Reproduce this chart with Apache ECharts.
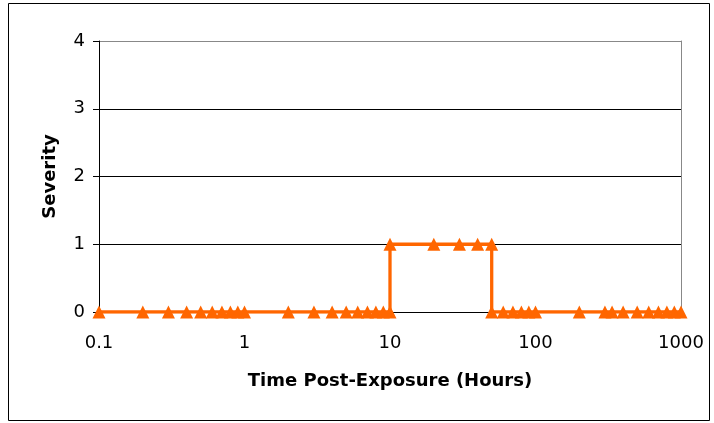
<!DOCTYPE html>
<html>
<head>
<meta charset="utf-8">
<script src="https://cdn.jsdelivr.net/npm/echarts@6/dist/echarts.min.js"></script>
<style>html,body{margin:0;padding:0;background:#fff}#c{width:714px;height:423px}</style>
</head>
<body>
<div id="c"></div>
<script>
const timeHours = [0.1,0.2,0.3,0.4,0.5,0.6,0.7,0.8,0.9,1,2,3,4,5,6,7,8,9,10,10,20,30,40,50,50,60,70,80,90,100,200,300,336,400,500,600,700,800,900,1000];
const severity  = [0,0,0,0,0,0,0,0,0,0,0,0,0,0,0,0,0,0,0,1,1,1,1,1,0,0,0,0,0,0,0,0,0,0,0,0,0,0,0,0];
const yTicks = [0,1,2,3,4];
const xTicks = [0.1,1,10,100,1000];

const chart = echarts.init(document.getElementById('c'), null, {renderer:'canvas'});
const font = 'DejaVu Sans';
chart.setOption({
  animation:false,
  backgroundColor:'#fff',
  grid:{left:99,right:33,top:41,bottom:111,containLabel:false},
  graphic:[{type:'rect',shape:{x:8.5,y:3.5,width:701,height:417},style:{fill:null,stroke:'#000',lineWidth:1}}],
  xAxis:{type:'log',logBase:10,min:xTicks[0],max:xTicks[xTicks.length-1],
    name:'Time Post-Exposure (Hours)',nameLocation:'middle',nameGap:60,
    nameTextStyle:{fontFamily:font,fontWeight:'bold',fontSize:18,color:'#000'},
    axisLine:{show:true,lineStyle:{color:'#000',width:1}},
    axisTick:{show:false},
    splitLine:{show:false},minorTick:{show:false},
    axisLabel:{margin:22,fontFamily:font,fontSize:18,color:'#000',
      formatter:v=>{const r=xTicks.find(t=>Math.abs(t-v)/t<1e-6);return r===undefined?'':String(r);}}
  },
  yAxis:[{type:'value',min:yTicks[0],max:yTicks[yTicks.length-1],interval:1,
    name:'Severity',nameLocation:'middle',nameGap:40,
    nameTextStyle:{fontFamily:font,fontWeight:'bold',fontSize:18,color:'#000'},
    axisLine:{show:true,lineStyle:{color:'#000',width:1}},
    axisTick:{show:true,length:6,lineStyle:{color:'#000'}},
    splitLine:{show:true,lineStyle:{color:['#000','#000','#000','#000','#888'],width:1}},
    axisLabel:{margin:14,fontFamily:font,fontSize:18,color:'#000'}
  },{type:'value',position:'right',min:0,max:4,
    axisLine:{show:true,lineStyle:{color:'#888',width:1}},axisTick:{show:false},axisLabel:{show:false},splitLine:{show:false}}],
  series:[{type:'line',data:timeHours.map((t,i)=>[t,severity[i]]),
    symbol:'triangle',symbolSize:[13,13],showAllSymbol:true,
    lineStyle:{color:'#FF6600',width:3.3},
    itemStyle:{color:'#FF6600'},z:5}]
});
</script>
</body>
</html>
